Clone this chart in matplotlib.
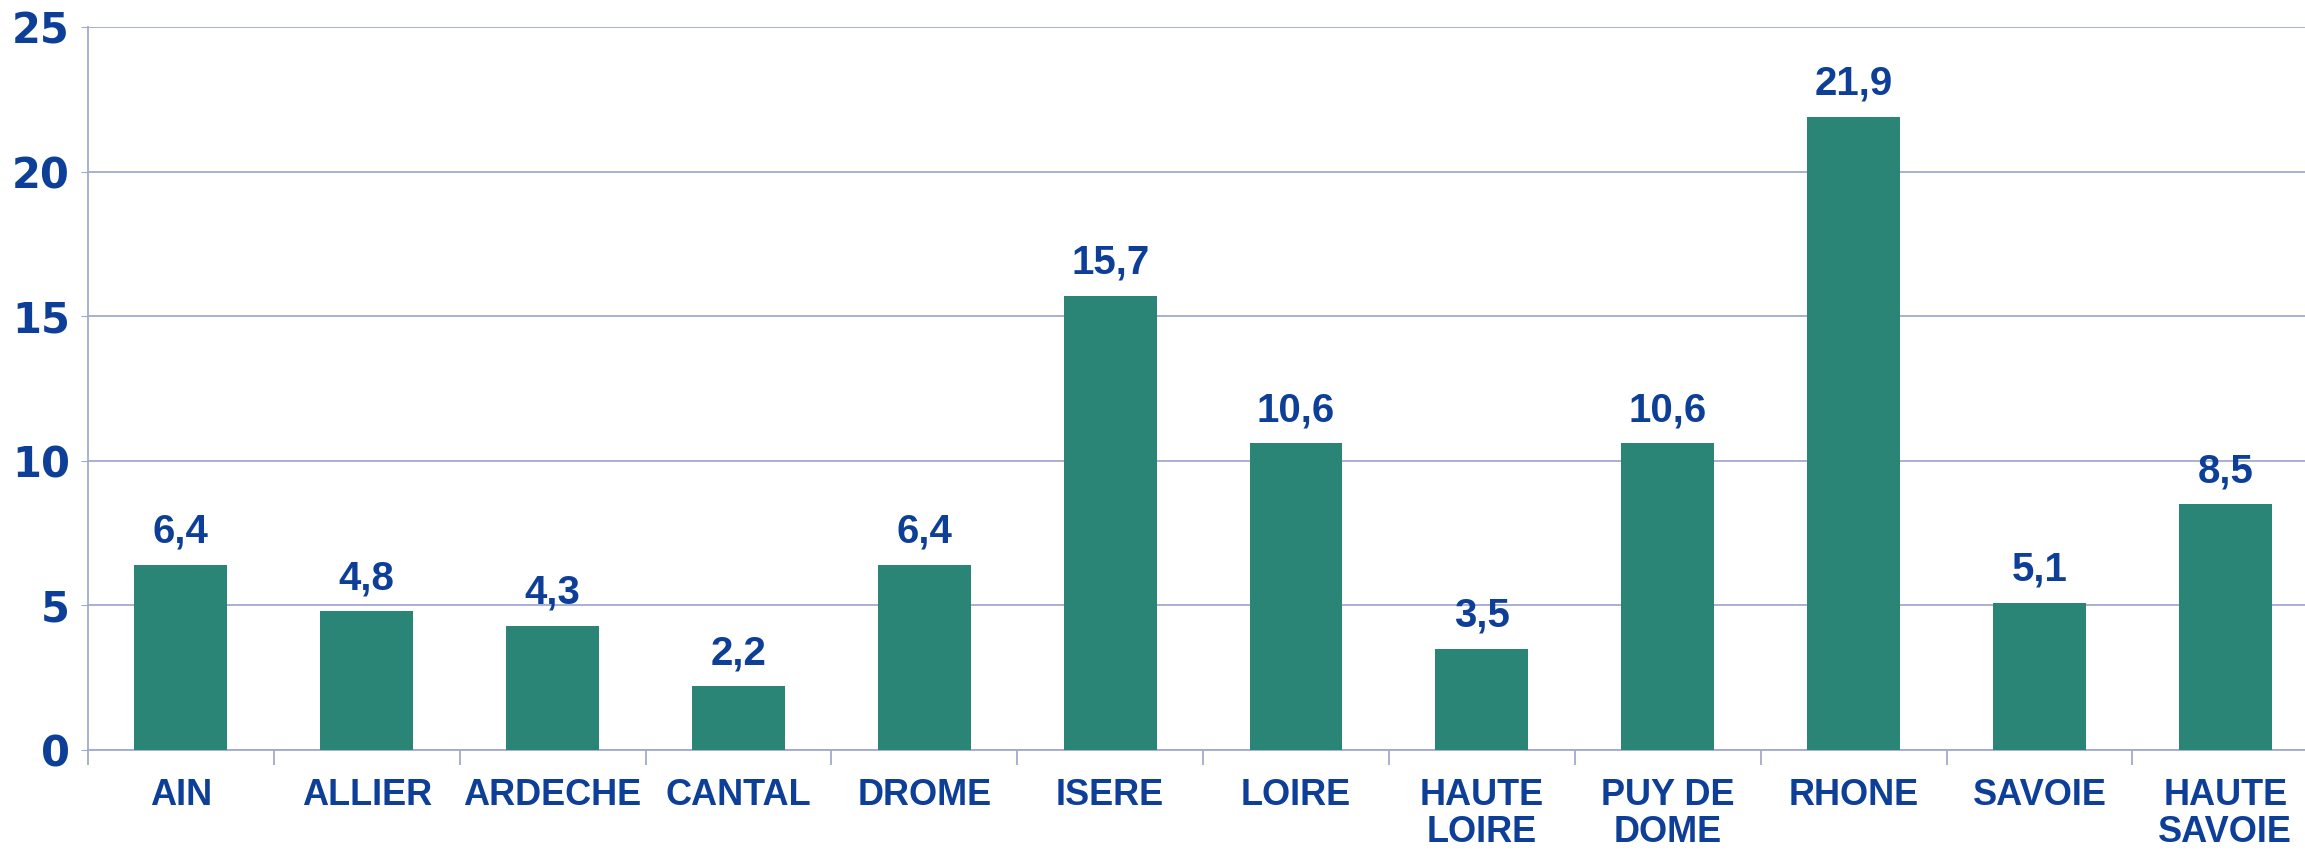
import numpy as np
import matplotlib.pyplot as plt

# departements et valeurs (%)
departements = ["AIN", "ALLIER", "ARDECHE", "CANTAL", "DROME", "ISERE", "LOIRE",
                "HAUTE\nLOIRE", "PUY DE\nDOME", "RHONE", "SAVOIE", "HAUTE\nSAVOIE"]
valeurs = [6.4, 4.8, 4.3, 2.2, 6.4, 15.7, 10.6, 3.5, 10.6, 21.9, 5.1, 8.5]
y_ticks = [0, 5, 10, 15, 20, 25]

bar_color = "#2A8577"
text_color = "#0D3F99"
grid_color = "#A3A9CF"

W, H = 2305, 851
fig = plt.figure(figsize=(W / 100, H / 100), dpi=100)
# axe de 88 px a droite jusqu'au bord, y=0 a 750 px, y=25 a 27 px
ax = fig.add_axes([88 / W, 1 - 750 / H, (W - 88) / W, 723 / H])

x = np.arange(len(departements))
bars = ax.bar(x, valeurs, width=0.5, color=bar_color, zorder=3)

for xi, v in zip(x, valeurs):
    ax.annotate("{:.1f}".format(v).replace(".", ","), (xi, v),
                xytext=(0, 14), textcoords="offset pixels",
                ha="center", va="bottom", fontsize=29, fontweight="bold",
                color=text_color, family="Liberation Sans")

ax.set_ylim(0, 25)
ax.set_yticks(y_ticks)
ax.set_yticklabels([str(t) for t in y_ticks], fontsize=30, fontweight="bold",
                   color=text_color, family="DejaVu Sans")
ax.yaxis.grid(True, color=grid_color, linewidth=1.3, zorder=0)
ax.tick_params(axis="y", length=5, color=grid_color, pad=8)

ax.set_xticks(x)
ax.set_xticklabels(departements, fontsize=26, fontweight="bold", color=text_color,
                   family="Liberation Sans", linespacing=1.1)
ax.tick_params(axis="x", length=0, pad=20)
ax.set_xticks(np.arange(len(departements) + 1) - 0.5, minor=True)
ax.tick_params(axis="x", which="minor", length=11, color=grid_color, width=1.3)
# 12 categories de 185.85 px, la derniere coupee par le bord de l'image
ax.set_xlim(-0.5, -0.5 + (W - 88) / 185.85)

for s in ["top", "right"]:
    ax.spines[s].set_visible(False)
for s in ["left", "bottom"]:
    ax.spines[s].set_color(grid_color)
    ax.spines[s].set_linewidth(1.3)

fig.savefig("out.png", dpi=100)
